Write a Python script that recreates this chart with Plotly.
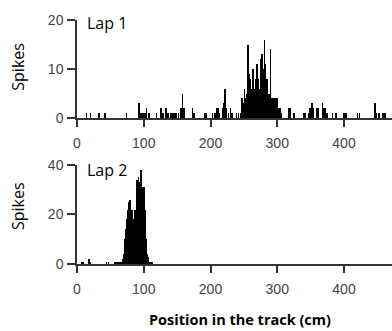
import plotly.graph_objects as go

# Lap 1: position (cm) of non-empty bins and spike counts
lap1_pos = [14, 20, 33, 42, 74, 93, 95, 97, 100, 102, 104, 108, 119, 126, 129, 133, 136,
            141, 143, 145, 147, 149, 152, 156, 158, 160, 173, 175, 191, 193, 203, 207, 209,
            211, 213, 218, 220, 222, 224, 227, 230, 232, 239, 242, 245, 247, 249,
            250, 251, 252, 253, 254, 255, 256, 257, 258, 259, 260, 261, 262, 263, 264, 265,
            266, 267, 268, 269, 270, 271, 272, 273, 274, 275, 276, 277, 278, 279, 280, 281,
            282, 283, 284, 285, 286, 287, 288, 289, 290, 291, 292, 293, 294, 295, 296, 297,
            298, 299, 300, 301, 302, 303, 304, 305, 306,
            318, 320, 325, 340, 342, 347, 349, 352, 354, 360, 362, 368, 370, 372, 375, 383,
            388, 400, 403, 420, 423, 446, 448, 452, 458, 461]
lap1_spikes = [1, 1, 1, 1, 1, 3, 1, 1, 1, 1, 2, 1, 1, 2, 1, 2, 1,
               1, 1, 1, 1, 1, 1, 2, 5, 2, 2, 1, 1, 1, 1, 1, 2,
               2, 1, 2, 3, 6, 2, 1, 2, 1, 1, 1, 1, 4, 3,
               2, 6, 3, 4, 2, 5, 15, 4, 9, 8, 3, 6, 4, 5, 10, 3,
               6, 4, 8, 5, 11, 4, 8, 6, 3, 12, 5, 13, 6, 10, 5, 16,
               11, 6, 4, 8, 3, 4, 5, 3, 14, 4, 3, 2, 4, 3, 2, 4,
               2, 3, 4, 2, 2, 1, 2, 1, 1,
               2, 2, 1, 1, 1, 1, 2, 3, 2, 2, 2, 3, 2, 2, 1, 1,
               1, 1, 1, 1, 1, 3, 1, 1, 1, 1]

# Lap 2
lap2_pos = [7, 9, 17, 18, 19, 44, 47, 57, 60, 63, 65, 66, 67,
            68, 69, 70, 71, 72, 73, 74, 75, 76, 77, 78, 79, 80, 81, 82, 83, 84, 85, 86, 87,
            88, 89, 90, 91, 92, 93, 94, 95, 96, 97, 98, 99, 100, 101, 102, 103, 104, 105,
            106, 107, 108, 109, 110, 112]
lap2_spikes = [1, 1, 1, 2, 1, 1, 1, 1, 1, 1, 1, 1, 1,
               1, 2, 4, 8, 10, 14, 18, 12, 22, 25, 20, 26, 24, 16, 22, 14, 18, 12, 20, 22,
               16, 30, 34, 28, 35, 24, 33, 28, 38, 31, 30, 26, 31, 20, 22, 10, 6, 4,
               3, 2, 1, 1, 1, 1]

x_ticks = [0, 100, 200, 300, 400]
y1_ticks = [0, 10, 20]
y2_ticks = [0, 20, 40]
lap_labels = ["Lap 1", "Lap 2"]
x_title = "Position in the track (cm)"
y_title = "Spikes"

fig = go.Figure()
fig.add_trace(go.Bar(x=lap1_pos, y=lap1_spikes, width=1, marker=dict(color="black", line=dict(width=0)),
                     xaxis="x", yaxis="y", showlegend=False))
fig.add_trace(go.Bar(x=lap2_pos, y=lap2_spikes, width=1, marker=dict(color="black", line=dict(width=0)),
                     xaxis="x2", yaxis="y2", showlegend=False))

axis_common = dict(showline=True, linecolor="#333333", linewidth=1.5, ticks="outside",
                   tickcolor="#333333", tickwidth=1.5, showgrid=False, zeroline=False,
                   tickfont=dict(family="Liberation Sans, Arial", size=14, color="#444444"))

xr = [0, 471.9]
fig.update_layout(
    width=392, height=331,
    margin=dict(l=77, r=0, t=20, b=67),
    paper_bgcolor="white", plot_bgcolor="white",
    bargap=0,
    xaxis=dict(domain=[0, 1], anchor="y", range=xr, tickvals=x_ticks, ticklen=7,
               ticklabelstandoff=4, **axis_common),
    yaxis=dict(domain=[0.598, 1], anchor="x", range=[0, 20], tickvals=y1_ticks, ticklen=8,
               ticklabelstandoff=1, **axis_common),
    xaxis2=dict(domain=[0, 1], anchor="y2", range=xr, tickvals=x_ticks, ticklen=7,
                ticklabelstandoff=4, **axis_common),
    yaxis2=dict(domain=[0, 0.406], anchor="x2", range=[0, 40], tickvals=y2_ticks, ticklen=8,
                ticklabelstandoff=1, **axis_common),
)

lab_font = dict(family="Open Sans", size=16, color="black")
fig.add_annotation(text=lap_labels[0], x=0.0254, y=0.988, xref="paper", yref="paper",
                   xanchor="left", yanchor="middle", showarrow=False, font=lab_font)
fig.add_annotation(text=lap_labels[1], x=0.0254, y=0.385, xref="paper", yref="paper",
                   xanchor="left", yanchor="middle", showarrow=False, font=lab_font)
fig.add_annotation(text=y_title, x=-0.187, y=0.809, xref="paper", yref="paper", textangle=-90,
                   xanchor="center", yanchor="middle", showarrow=False,
                   font=dict(family="Open Sans", size=16, color="black"))
fig.add_annotation(text=y_title, x=-0.187, y=0.238, xref="paper", yref="paper", textangle=-90,
                   xanchor="center", yanchor="middle", showarrow=False,
                   font=dict(family="Open Sans", size=16, color="black"))
fig.add_annotation(text="<b>" + x_title + "</b>", x=0.517, y=-0.2295, xref="paper", yref="paper",
                   xanchor="center", yanchor="middle", showarrow=False,
                   font=dict(family="Open Sans", size=14.5, color="black"))

fig.write_html("out.html")
